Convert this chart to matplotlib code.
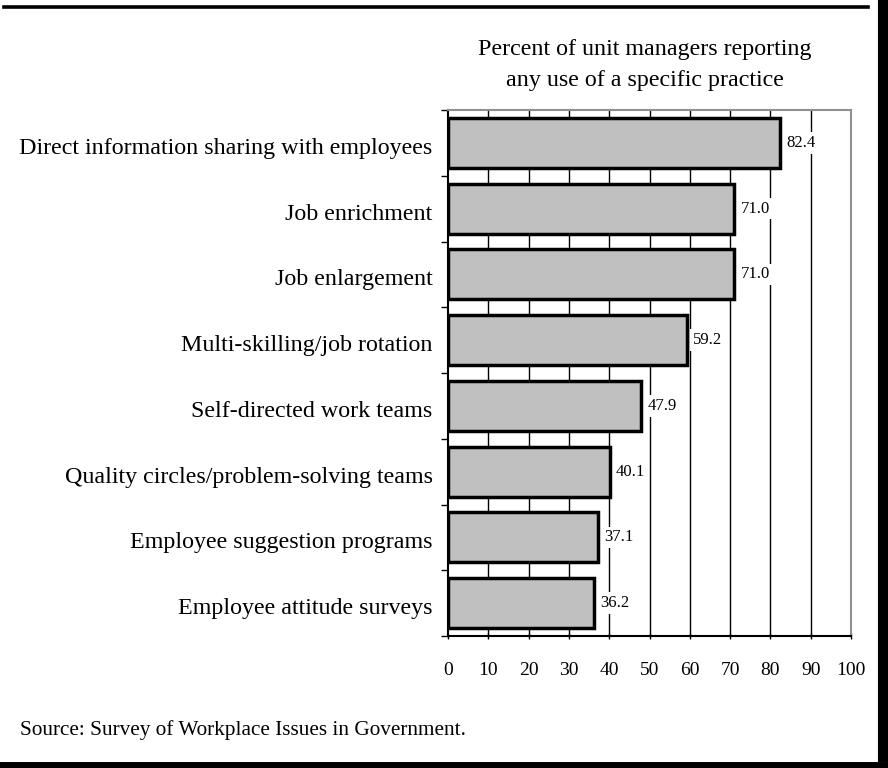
import matplotlib
matplotlib.use("Agg")
import matplotlib.pyplot as plt
import matplotlib.transforms as mtransforms
from matplotlib.lines import Line2D
import numpy as np

categories = [
    "Direct information sharing with employees",
    "Job enrichment",
    "Job enlargement",
    "Multi-skilling/job rotation",
    "Self-directed work teams",
    "Quality circles/problem-solving teams",
    "Employee suggestion programs",
    "Employee attitude surveys",
]
values = [82.4, 71.0, 71.0, 59.2, 47.9, 40.1, 37.1, 36.2]
xticks = [0, 10, 20, 30, 40, 50, 60, 70, 80, 90, 100]
title = "Percent of unit managers reporting\nany use of a specific practice"
source = "Source: Survey of Workplace Issues in Government."

plt.rcParams['font.family'] = ['Liberation Serif', 'DejaVu Serif']

fig = plt.figure(figsize=(8.88, 7.68), dpi=100)
ax = fig.add_axes([448/888, 1-636/768, (851-448)/888, (636-110)/768])

n = len(categories)
y = np.arange(n)
ax.set_ylim(n - 0.5, -0.5)
ax.set_xlim(0, 100)

for gx in xticks[1:-1]:
    ax.axvline(gx, color='black', lw=1.0, zorder=1)

ax.barh(y, values, height=0.76, color='#c0c0c0', edgecolor='black', lw=2.5, zorder=2)
for yi, v in zip(y, values):
    ax.text(v + 1.6, yi, f"{v:.1f}", va='center', ha='left', fontsize=12,
            bbox=dict(facecolor='white', edgecolor='none', pad=2), zorder=3)

ax.set_yticks(np.arange(n + 1) - 0.5)
ax.set_yticklabels([])
ax.set_yticks(y, minor=True)
ax.set_yticklabels(categories, minor=True, fontsize=17.3, va='center_baseline')
ax.tick_params(axis='y', which='minor', length=0, pad=11)
ax.tick_params(axis='y', which='major', length=5, direction='out', width=1)
offset = mtransforms.ScaledTranslation(0, -3/100, fig.dpi_scale_trans)
for lab in ax.get_yticklabels(minor=True):
    lab.set_transform(lab.get_transform() + offset)
ax.set_xticks(xticks)
ax.set_xticklabels([str(t) for t in xticks], fontsize=14)
ax.tick_params(axis='x', length=5, direction='inout', width=1, pad=16)

ax.spines['left'].set_color('black')
ax.spines['bottom'].set_color('black')
ax.spines['top'].set_color('#909090')
ax.spines['right'].set_color('#909090')
for s in ax.spines.values():
    s.set_linewidth(1.5)

fig.text(645/888, 1-65/768, title, ha='center', va='center', fontsize=17.3, linespacing=1.6)
fig.text(20/888, 1-730/768, source, ha='left', va='center', fontsize=15.3)

# outer frame
fig.add_artist(Line2D([4/888, 868/888], [1-7/768, 1-7/768], color='black', lw=2.6, transform=fig.transFigure))
fig.add_artist(Line2D([883/888, 883/888], [1-0/768, 1-756/768], color='black', lw=8, transform=fig.transFigure))
fig.add_artist(Line2D([0, 1], [1-765/768, 1-765/768], color='black', lw=5, transform=fig.transFigure))

fig.savefig("out.png", dpi=100)
